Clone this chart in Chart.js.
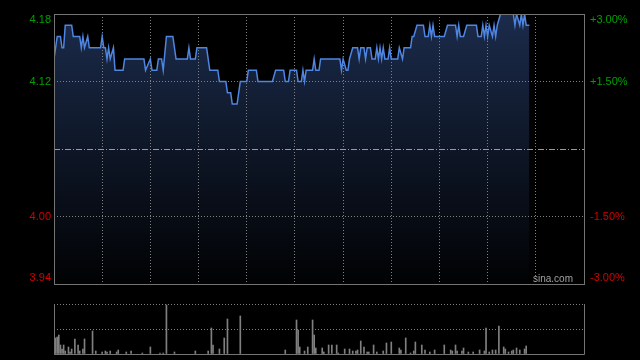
<!DOCTYPE html>
<html>
<head>
<meta charset="utf-8">
<script src="https://cdn.jsdelivr.net/npm/chart.js@4/dist/chart.umd.min.js"></script>
<style>
  html, body { margin: 0; padding: 0; background: #000; }
  #wrap { position: relative; width: 640px; height: 360px; overflow: hidden; }
  #priceChart { position: absolute; left: 0; top: 0; }
  #volChart { position: absolute; left: 0; top: 290px; }
</style>
</head>
<body>
<div id="wrap">
  <canvas id="priceChart" width="640" height="290"></canvas>
  <canvas id="volChart" width="640" height="70"></canvas>
</div>
<script>
// ===================== DATA =====================
const prevClose = 4.06;
const yTicks = [3.94, 4.00, 4.06, 4.12, 4.18];
const pctTicks = [-3, -1.5, 0, 1.5, 3];
const timeTicks = [0, 30, 60, 90, 120, 150, 180, 210, 240, 270, 300, 330];

// minutes since open (9:30, lunch removed)
const times = [
  0, 2, 4, 5, 6, 7, 11, 12, 16, 17,
  18, 19, 21, 22, 29, 30, 31, 32, 33, 34,
  35, 37, 38, 43, 44, 56, 57, 60, 61, 64,
  65, 67, 68, 70, 74, 76, 83, 84, 85, 88,
  89, 95, 97, 102, 103, 107, 108, 110, 111, 114,
  116, 120, 121, 126, 127, 136, 138, 143, 144, 146,
  147, 151, 152, 154, 155, 156, 157, 161, 162, 163,
  165, 166, 178, 179, 180, 182, 183, 184, 186, 189,
  190, 191, 193, 194, 195, 197, 198, 200, 201, 202,
  203, 204, 205, 206, 208, 209, 210, 214, 215, 217,
  218, 222, 223, 224, 226, 230, 231, 233, 234, 235,
  236, 237, 243, 245, 250, 251, 252, 253, 255, 257,
  263, 264, 266, 267, 268, 269, 270, 271, 273, 274,
  275, 276, 278, 286, 287, 288, 290, 291, 292, 293,
  294, 296
];
const prices = [
  4.14, 4.16, 4.16, 4.15, 4.15, 4.17, 4.17, 4.16, 4.16, 4.15,
  4.16, 4.15, 4.16, 4.15, 4.15, 4.16, 4.15, 4.15, 4.14, 4.15,
  4.14, 4.15, 4.13, 4.13, 4.14, 4.14, 4.13, 4.14, 4.13, 4.13,
  4.14, 4.14, 4.13, 4.16, 4.16, 4.14, 4.14, 4.15, 4.14, 4.14,
  4.15, 4.15, 4.13, 4.13, 4.12, 4.12, 4.11, 4.11, 4.10, 4.10,
  4.12, 4.12, 4.13, 4.13, 4.12, 4.12, 4.13, 4.13, 4.12, 4.12,
  4.13, 4.13, 4.12, 4.12, 4.13, 4.12, 4.13, 4.13, 4.14, 4.13,
  4.13, 4.14, 4.14, 4.13, 4.14, 4.13, 4.13, 4.14, 4.15, 4.15,
  4.14, 4.15, 4.15, 4.14, 4.15, 4.15, 4.14, 4.14, 4.15, 4.14,
  4.15, 4.14, 4.15, 4.14, 4.14, 4.15, 4.14, 4.14, 4.15, 4.14,
  4.15, 4.15, 4.16, 4.16, 4.17, 4.17, 4.16, 4.16, 4.17, 4.16,
  4.17, 4.16, 4.16, 4.17, 4.17, 4.16, 4.17, 4.16, 4.16, 4.17,
  4.17, 4.16, 4.16, 4.17, 4.16, 4.17, 4.16, 4.17, 4.16, 4.17,
  4.16, 4.17, 4.18, 4.18, 4.17, 4.18, 4.17, 4.18, 4.17, 4.18,
  4.17, 4.17
];

const volTimes = [
  1, 2, 3, 4, 5, 6, 7, 9, 10, 11,
  13, 15, 16, 18, 19, 24, 26, 30, 32, 33,
  35, 39, 40, 45, 48, 55, 60, 66, 68, 70,
  75, 88, 96, 98, 99, 103, 106, 108, 116, 144,
  151, 152, 153, 156, 158, 161, 162, 163, 167, 168,
  171, 173, 176, 177, 181, 184, 186, 188, 189, 191,
  193, 195, 196, 199, 201, 205, 207, 210, 215, 216,
  219, 222, 224, 225, 229, 231, 234, 237, 243, 247,
  248, 250, 251, 254, 255, 258, 261, 265, 268, 269,
  271, 273, 275, 277, 280, 281, 283, 285, 286, 288,
  290, 293, 294
];
const vols = [
  160, 170, 190, 90, 50, 90, 30, 70, 20, 50,
  150, 90, 30, 50, 150, 230, 30, 20, 30, 20,
  30, 20, 40, 20, 30, 10, 70, 10, 10, 490,
  20, 30, 30, 260, 90, 50, 160, 350, 380, 40,
  340, 240, 70, 30, 70, 340, 190, 60, 60, 20,
  90, 90, 90, 10, 50, 50, 30, 30, 40, 130,
  70, 20, 20, 90, 20, 30, 110, 120, 60, 40,
  160, 10, 30, 120, 90, 40, 20, 40, 90, 40,
  30, 90, 30, 30, 60, 20, 20, 40, 30, 260,
  20, 40, 40, 280, 70, 50, 20, 30, 40, 60,
  40, 50, 80
];
const volTicks = [0, 250, 500];

const upColor = "#00a000";
const downColor = "#d40000";
const frameColor = "#747474";
const gridColor = "#808080";
const labelFont = '11px "Liberation Sans", Arial, sans-serif';

const pricePoints = times.map((t, i) => ({ x: t, y: prices[i] }));
const volPoints = volTimes.map((t, i) => ({ x: t, y: vols[i] }));

// ===================== PLUGINS =====================
// grid on top of the area fill, under the line
const gridOverFill = {
  id: "gridOverFill",
  afterDatasetDraw(chart, args) {
    if (args.index !== 0) return;
    chart.scales.x.drawGrid(chart.chartArea);
    chart.scales.y.drawGrid(chart.chartArea);
  }
};

const priceFrame = {
  id: "priceFrame",
  afterDraw(chart) {
    const { ctx, chartArea: ca, scales } = chart;
    ctx.save();
    ctx.strokeStyle = frameColor;
    ctx.lineWidth = 1;
    ctx.strokeRect(ca.left + 0.5, ca.top + 0.5, ca.right - ca.left, ca.bottom - ca.top);

    ctx.font = labelFont;
    ctx.textBaseline = "middle";
    yTicks.forEach(v => {
      if (v === prevClose) return;
      let py = scales.y.getPixelForValue(v);
      py = Math.min(Math.max(py, ca.top + 6), ca.bottom - 6);
      ctx.fillStyle = v > prevClose ? upColor : downColor;
      ctx.textAlign = "right";
      ctx.fillText(v.toFixed(2), ca.left - 3, py);
    });
    pctTicks.forEach(p => {
      if (p === 0) return;
      let py = scales.y2.getPixelForValue(p);
      py = Math.min(Math.max(py, ca.top + 6), ca.bottom - 6);
      ctx.fillStyle = p > 0 ? upColor : downColor;
      ctx.textAlign = "left";
      ctx.fillText((p > 0 ? "+" : "") + p.toFixed(2) + "%", ca.right + 6, py);
    });

    ctx.font = '10px "Liberation Sans", Arial, sans-serif';
    ctx.fillStyle = "#a0a0a0";
    ctx.textAlign = "right";
    ctx.fillText("sina.com", ca.right - 11, ca.bottom - 5);
    ctx.restore();
  }
};

const volFrame = {
  id: "volFrame",
  afterDraw(chart) {
    const { ctx, chartArea: ca } = chart;
    ctx.save();
    ctx.strokeStyle = frameColor;
    ctx.lineWidth = 1;
    ctx.beginPath();
    ctx.moveTo(ca.left + 0.5, ca.top);
    ctx.lineTo(ca.left + 0.5, ca.bottom + 0.5);
    ctx.lineTo(ca.right + 0.5, ca.bottom + 0.5);
    ctx.lineTo(ca.right + 0.5, ca.top);
    ctx.stroke();
    ctx.restore();
  }
};

// ===================== PRICE CHART =====================
const priceCtx = document.getElementById("priceChart").getContext("2d");
const priceChart = new Chart(priceCtx, {
  type: "line",
  data: {
    datasets: [
      {
        data: pricePoints,
        borderWidth: 0,
        pointRadius: 0,
        fill: "start",
        order: 2,
        backgroundColor: (c) => {
          const ca = c.chart.chartArea;
          if (!ca) return "rgba(0,0,0,0)";
          const g = c.chart.ctx.createLinearGradient(0, ca.top, 0, ca.bottom);
          g.addColorStop(0, "#1b2b4b");
          g.addColorStop(1, "#010203");
          return g;
        }
      },
      {
        data: pricePoints,
        borderColor: "#4f86e2",
        borderWidth: 1.5,
        pointRadius: 0,
        tension: 0,
        fill: false,
        order: 1
      }
    ]
  },
  options: {
    responsive: false,
    animation: false,
    devicePixelRatio: 1,
    layout: { padding: { top: 14, bottom: 6, left: 0, right: 0 } },
    plugins: { legend: { display: false }, tooltip: { enabled: false } },
    scales: {
      x: {
        type: "linear",
        min: 0,
        max: 330,
        afterBuildTicks: s => { s.ticks = timeTicks.map(v => ({ value: v })); },
        afterFit: s => { s.height = 0; },
        ticks: { display: false },
        grid: { color: gridColor, drawTicks: false },
        border: { display: false, dash: [1, 2] }
      },
      y: {
        position: "left",
        min: 3.94,
        max: 4.18,
        afterBuildTicks: s => { s.ticks = yTicks.map(v => ({ value: v })); },
        afterFit: s => { s.width = 54; },
        ticks: { display: false },
        grid: {
          drawTicks: false,
          color: c => (c.tick && c.tick.value === prevClose ? "#9a9a9a" : gridColor)
        },
        border: {
          display: false,
          dash: c => (c.tick && c.tick.value === prevClose ? [6, 2, 1, 2] : [1, 2])
        }
      },
      y2: {
        position: "right",
        min: -3,
        max: 3,
        afterBuildTicks: s => { s.ticks = pctTicks.map(v => ({ value: v })); },
        afterFit: s => { s.width = 56; },
        ticks: { display: false },
        grid: { display: false },
        border: { display: false }
      }
    }
  },
  plugins: [gridOverFill, priceFrame]
});

// ===================== VOLUME CHART =====================
const volCtx = document.getElementById("volChart").getContext("2d");
const volChart = new Chart(volCtx, {
  type: "bar",
  data: {
    datasets: [{
      data: volPoints,
      backgroundColor: "#808080",
      borderWidth: 0,
      barThickness: 1
    }]
  },
  options: {
    responsive: false,
    animation: false,
    devicePixelRatio: 1,
    layout: { padding: { top: 14, bottom: 6, left: 0, right: 0 } },
    plugins: { legend: { display: false }, tooltip: { enabled: false } },
    scales: {
      x: {
        type: "linear",
        min: 0,
        max: 330,
        offset: false,
        afterFit: s => { s.height = 0; },
        ticks: { display: false },
        grid: { display: false, offset: false },
        border: { display: false }
      },
      y: {
        position: "left",
        min: 0,
        max: 500,
        afterBuildTicks: s => { s.ticks = volTicks.map(v => ({ value: v })); },
        afterFit: s => { s.width = 54; },
        ticks: { display: false },
        grid: { drawTicks: false, color: gridColor },
        border: { display: false, dash: [1, 2] }
      },
      y2: {
        position: "right",
        min: 0,
        max: 500,
        afterFit: s => { s.width = 56; },
        ticks: { display: false },
        grid: { display: false },
        border: { display: false }
      }
    }
  },
  plugins: [volFrame]
});
</script>
</body>
</html>
